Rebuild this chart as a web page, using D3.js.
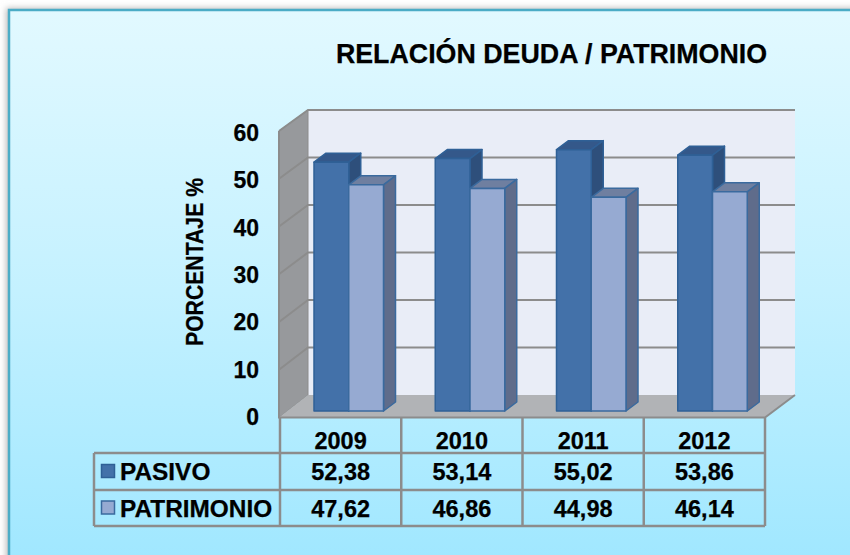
<!DOCTYPE html>
<html><head><meta charset="utf-8">
<script src="https://cdn.jsdelivr.net/npm/d3@7/dist/d3.min.js"></script>
<style>html,body{margin:0;padding:0;background:#fff;overflow:hidden}svg{display:block}
text{font-family:"Liberation Sans",Arial,sans-serif;font-weight:bold;fill:#000;stroke:#000;stroke-width:.25}</style>
</head><body><svg id="c" width="850" height="555"></svg>
<script>
const years = ["2009","2010","2011","2012"];
const seriesNames = ["PASIVO","PATRIMONIO"];
const pasivo = [52.38,53.14,55.02,53.86];
const patrimonio = [47.62,46.86,44.98,46.14];
const yTicks = [0,10,20,30,40,50,60];
const titleText = "RELACIÓN DEUDA / PATRIMONIO";
const yAxisTitle = "PORCENTAJE %";

const svg = d3.select("#c");
const defs = svg.append("defs");
const g = defs.append("linearGradient").attr("id","bg").attr("x1",0).attr("y1",0).attr("x2",0).attr("y2",1);
g.append("stop").attr("offset","0").attr("stop-color","#e2f9ff");
g.append("stop").attr("offset","0.5").attr("stop-color","#c4f1ff");
g.append("stop").attr("offset","1").attr("stop-color","#9fe7ff");
const f = defs.append("filter").attr("id","blur").attr("x","-5%").attr("y","-5%").attr("width","110%").attr("height","110%");
f.append("feGaussianBlur").attr("stdDeviation",3);

// card
svg.append("rect").attr("x",6).attr("y",8).attr("width",860).attr("height",560).attr("fill","#bbb").attr("filter","url(#blur)");
svg.append("rect").attr("x",9).attr("y",10).attr("width",860).attr("height",560).attr("fill","url(#bg)").attr("stroke","#4bacc6").attr("stroke-width",2.5);

// scales
const colX = d3.scaleBand().domain(years).range([280,765]);
const barX = d3.scaleBand().domain(seriesNames).range([34,103.5]);
const yBar = d3.scaleLinear().domain([0,60]).range([411,126]);
const yBack = d3.scaleLinear().domain([0,60]).range([395,110]);
const yFront = d3.scaleLinear().domain([0,60]).range([417.5,131]);
const yLabel = d3.scaleLinear().domain([0,60]).range([425,141]);
const wallL = 279, wallB = 308, wallR = 795, floorR = 765;
const line = p => "M"+p.map(a=>a.join(",")).join("L")+"Z";

// walls
const top60 = 60, zero = 0;
svg.append("path").attr("d",line([[wallB,yBack(top60)],[wallR,yBack(top60)],[wallR,yBack(zero)],[wallB,yBack(zero)]])).attr("fill","#e9edf7");
svg.append("path").attr("d",line([[wallL,yFront(top60)],[wallB,yBack(top60)],[wallB,yBack(zero)],[wallL,yFront(zero)]])).attr("fill","#97999c").attr("stroke","#8c8c8c").attr("stroke-width",1);
svg.append("path").attr("d",line([[wallL,yFront(zero)],[wallB,yBack(zero)],[wallR,yBack(zero)],[floorR,yFront(zero)]])).attr("fill","#b1b3b6");

// gridlines
const gridG = svg.append("g").attr("stroke","#8c8c8c").attr("stroke-width",2).attr("fill","none");
yTicks.forEach(t=>{
  if(t>0) gridG.append("path").attr("d",`M${wallL},${yFront(t)}L${wallB},${yBack(t)}L${wallR},${yBack(t)}`);
});
gridG.append("path").attr("d",`M${wallR},${yBack(0)}L${floorR},${yFront(0)}L${wallL},${yFront(0)}L${wallL},${yFront(60)}`);

// bars
const dx = 12, dy = 9;
const styles = {
  PASIVO:{front:"#4371a9",top:"#34588a",side:"#2e4f7b",stroke:"#2f6096"},
  PATRIMONIO:{front:"#96aad2",top:"#6f7fa0",side:"#5f6c8b",stroke:"#3a6a9e"}
};
const barG = svg.append("g");
years.forEach((yr,i)=>{
  [[seriesNames[0],pasivo[i]],[seriesNames[1],patrimonio[i]]].forEach(([s,v])=>{
    const st = styles[s];
    const x0 = colX(yr)+barX(s), x1 = x0+barX.bandwidth(), yT = yBar(v), yB = yBar(0);
    const part = (pts,fill)=>barG.append("path").attr("d",line(pts)).attr("fill",fill).attr("stroke",st.stroke).attr("stroke-width",1.5).attr("stroke-linejoin","round");
    part([[x0,yT],[x0+dx,yT-dy],[x1+dx,yT-dy],[x1,yT]],st.top);
    part([[x1,yT],[x1+dx,yT-dy],[x1+dx,yB-dy],[x1,yB]],st.side);
    part([[x0,yT],[x1,yT],[x1,yB],[x0,yB]],st.front);
  });
});

// y ticks
svg.append("g").selectAll("text").data(yTicks).join("text")
  .attr("x",259).attr("y",d=>yLabel(d)).attr("text-anchor","end").attr("font-size",23).text(d=>d);

// y title
svg.append("text").attr("transform","translate(203,262) rotate(-90)").attr("text-anchor","middle").attr("font-size",23.5)
  .attr("textLength",168).attr("lengthAdjust","spacingAndGlyphs").text(yAxisTitle);
// title
svg.append("text").attr("x",551.5).attr("y",63).attr("text-anchor","middle").attr("font-size",26.8).text(titleText);

// data table
const rowY = [418,453,490,526];
const tableLeft = 94;
const tl = svg.append("g").attr("stroke","#8c8c8c").attr("fill","none");
const hl=(x1,x2,y,w=2.5)=>tl.append("line").attr("x1",x1).attr("x2",x2).attr("y1",y).attr("y2",y).attr("stroke-width",w);
const vl=(x,y1,y2,w=2.5)=>tl.append("line").attr("x1",x).attr("x2",x).attr("y1",y1).attr("y2",y2).attr("stroke-width",w);
hl(tableLeft,colX.range()[1],rowY[1]); hl(tableLeft,colX.range()[1],rowY[2]); hl(tableLeft,colX.range()[1],rowY[3]);
vl(tableLeft,rowY[1],rowY[3]);
vl(colX.range()[0],rowY[0],rowY[3]);
years.forEach(y=>vl(colX(y)+colX.bandwidth(),rowY[0],rowY[3]));

const cell=(x,y,t,anchor="middle")=>svg.append("text").attr("x",x).attr("y",y).attr("text-anchor",anchor).attr("font-size",23.5).text(t);
years.forEach((yr,i)=>{
  const cx = colX(yr)+colX.bandwidth()/2;
  cell(cx,449,yr);
  cell(cx,480,pasivo[i].toFixed(2).replace(".",","));
  cell(cx,516.5,patrimonio[i].toFixed(2).replace(".",","));
});
seriesNames.forEach((s,i)=>{
  const ym = (rowY[i+1]+rowY[i+2])/2, st = styles[s];
  svg.append("rect").attr("x",101.5).attr("y",ym-7).attr("width",13).attr("height",13).attr("fill",st.front).attr("stroke",st.stroke).attr("stroke-width",1.5);
  svg.append("text").attr("x",120).attr("y",i?516.5:480).attr("font-size",24.4).text(s);
});
</script></body></html>
